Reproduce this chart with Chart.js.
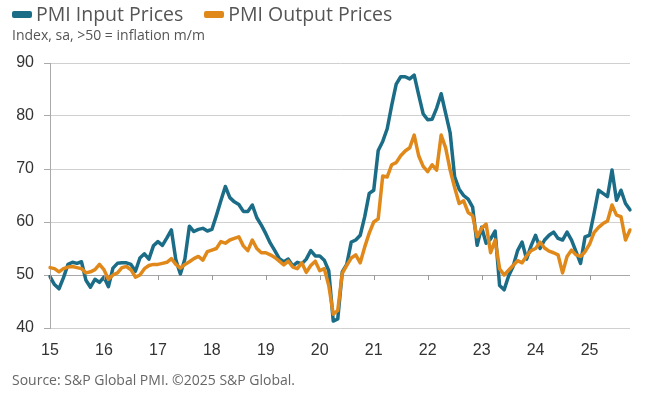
<!DOCTYPE html>
<html>
<head>
<meta charset="utf-8">
<script src="https://cdn.jsdelivr.net/npm/chart.js@4"></script>
<style>
  html, body { margin: 0; padding: 0; background: #fff; }
  #wrap { position: relative; width: 648px; height: 393px; overflow: hidden; font-family: "Open Sans", sans-serif; }
  #legend { position: absolute; left: 12px; top: 2px; display: flex; align-items: center; font-size: 19.5px; line-height: 24px; color: #555; }
  #legend .item { display: flex; align-items: center; margin-right: 21px; }
  #legend .box { width: 20px; height: 7px; border-radius: 2px; margin-right: 4px; }
  #sub { position: absolute; left: 12px; top: 27px; font-size: 14px; line-height: 16px; color: #555; }
  #source { position: absolute; left: 12px; top: 371px; font-size: 14px; line-height: 17px; color: #666; }
  canvas { position: absolute; left: 0; top: 0; }
</style>
</head>
<body>
<div id="wrap">
  <canvas id="chart" width="648" height="393"></canvas>
  <div id="legend"></div>
  <div id="sub">Index, sa, &gt;50 = inflation m/m</div>
  <div id="source">Source: S&amp;P Global PMI. ©2025 S&amp;P Global.</div>
</div>
<script>
"use strict";
// monthly, Jan 2015 .. Oct 2025
const startYear = 2015;
const monthCount = 130;
const seriesNames = ['PMI Input Prices', 'PMI Output Prices'];
const seriesColors = ['#1b6c87', '#e0891a'];

const inputPrices = [
    49.7, 48.2, 47.4, 49.5, 52.0, 52.4, 52.2, 52.5, 49.0, 47.7, 49.2, 48.6,
    49.6, 47.8, 51.3, 52.2, 52.3, 52.3, 52.0, 50.7, 53.2, 54.0, 53.0, 55.5,
    56.3, 55.6, 57.0, 58.5, 52.8, 50.2, 53.0, 59.2, 58.2, 58.6, 58.8, 58.3,
    58.6, 61.2, 64.0, 66.7, 64.6, 63.8, 63.3, 62.0, 62.0, 63.2, 60.8, 59.4,
    57.8, 56.0, 54.6, 53.1, 52.5, 53.0, 51.7, 52.4, 52.1, 53.0, 54.6, 53.6,
    53.6, 52.8, 50.8, 41.3, 41.7, 50.6, 52.0, 56.2, 56.6, 57.5, 61.0, 65.4,
    66.0, 73.5, 75.2, 77.6, 82.0, 86.0, 87.4, 87.4, 87.0, 87.7, 84.0, 80.4,
    79.3, 79.4, 81.5, 84.2, 80.5, 76.8, 68.5, 66.2, 65.0, 64.3, 62.8, 55.6,
    59.0, 56.0, 56.8, 58.3, 48.0, 47.2, 49.8, 51.6, 54.6, 56.2, 53.0, 55.5,
    57.5, 55.0, 56.6, 57.5, 58.1, 56.9, 56.6, 58.1, 56.6, 54.4, 52.2, 57.2,
    57.5, 61.6, 66.0, 65.4, 64.8, 69.8, 64.1, 66.0, 63.5, 62.3
];
const outputPrices = [
    51.4, 51.2, 50.6, 51.2, 51.5, 51.6, 51.4, 51.2, 50.4, 50.6, 51.0, 52.0,
    51.0, 49.2, 50.0, 50.4, 51.4, 51.6, 51.0, 49.6, 50.0, 51.2, 51.8, 52.0,
    52.0, 52.2, 52.4, 53.1, 52.0, 51.3, 52.0, 52.5, 53.1, 53.5, 52.8, 54.4,
    54.7, 55.0, 56.3, 56.0, 56.6, 56.9, 57.2, 55.5, 54.6, 56.6, 55.0, 54.2,
    54.2, 53.8, 53.3, 52.6, 51.9, 52.6, 51.5, 51.2, 52.3, 50.5, 51.8, 52.6,
    50.8, 51.2, 48.0, 42.6, 43.3, 50.3, 51.8, 53.2, 53.8, 52.3, 55.3, 57.9,
    60.0, 60.6, 68.7, 68.5, 70.8, 71.2, 72.5, 73.4, 74.0, 76.4, 72.5, 70.5,
    69.5, 70.8, 69.8, 76.4, 74.0, 69.8, 66.5, 63.5, 64.0, 61.8, 61.2, 57.2,
    58.8, 59.6, 54.2, 56.6, 51.2, 50.0, 50.9, 51.8, 52.7, 52.3, 53.6, 54.6,
    55.0, 56.2, 55.1, 54.5, 54.2, 53.8, 50.4, 53.5, 54.7, 53.8, 53.5, 54.4,
    55.8, 58.0, 59.0, 59.7, 60.2, 63.2, 61.3, 61.0, 56.6, 58.5
];

const months = [];
for (let i = 0; i < monthCount; i++) {
    let y = startYear + Math.floor(i / 12);
    let m = (i % 12) + 1;
    months.push(y + '-' + (m < 10 ? '0' + m : m));
}

// html legend
const legendEl = document.getElementById('legend');
seriesNames.forEach((name, idx) => {
    legendEl.insertAdjacentHTML('beforeend',
        "<div class='item'><span class='box' style='background:" + seriesColors[idx] + "'></span>" + name + "</div>");
});

// little year ticks hanging off the 50 line
const yearTicks = {
    id: 'yearTicks',
    afterDraw(chart) {
        const x = chart.scales.x, y = chart.scales.y;
        const ctx = chart.ctx;
        const y50 = y.getPixelForValue(50);
        ctx.save();
        ctx.strokeStyle = '#999';
        ctx.lineWidth = 1;
        months.forEach((lbl, i) => {
            if (!lbl.endsWith('-01')) return;
            const px = Math.round(x.getPixelForValue(i)) + 0.5;
            ctx.beginPath();
            ctx.moveTo(px, y50);
            ctx.lineTo(px, y50 + 5);
            ctx.stroke();
        });
        ctx.restore();
    }
};

new Chart(document.getElementById('chart'), {
    type: 'line',
    data: {
        labels: months,
        datasets: [
            { label: seriesNames[1], data: outputPrices, borderColor: seriesColors[1], order: 0 },
            { label: seriesNames[0], data: inputPrices, borderColor: seriesColors[0], order: 1 },
        ]
    },
    options: {
        responsive: false,
        animation: false,
        layout: { padding: { top: 63, right: 18, bottom: 35, left: 0 } },
        elements: {
            line: { borderWidth: 3.5, tension: 0, borderJoinStyle: 'round', borderCapStyle: 'round' },
            point: { radius: 0 }
        },
        plugins: {
            legend: { display: false },
            tooltip: { enabled: false }
        },
        scales: {
            x: {
                grid: { display: false, drawTicks: false },
                border: { display: false },
                ticks: {
                    autoSkip: false,
                    maxRotation: 0,
                    minRotation: 0,
                    padding: 13,
                    color: '#333',
                    font: { family: 'Liberation Sans', size: 16 },
                    callback: (v, i) => months[i].endsWith('-01') ? months[i].slice(2, 4) : ''
                },
                afterFit: (s) => { s.height = 30; }
            },
            y: {
                min: 40,
                max: 90,
                ticks: {
                    stepSize: 10,
                    padding: 10,
                    color: '#333',
                    font: { family: 'Liberation Sans', size: 16 }
                },
                grid: {
                    color: (c) => c.tick && c.tick.value === 50 ? '#a8a8a8' : '#d0d0d0',
                    lineWidth: 1,
                    tickLength: 6,
                    tickColor: '#aaa'
                },
                border: { display: true, color: '#aaa' },
                afterFit: (s) => { s.width = 50; }
            }
        }
    },
    plugins: [yearTicks]
});
</script>
</body>
</html>
